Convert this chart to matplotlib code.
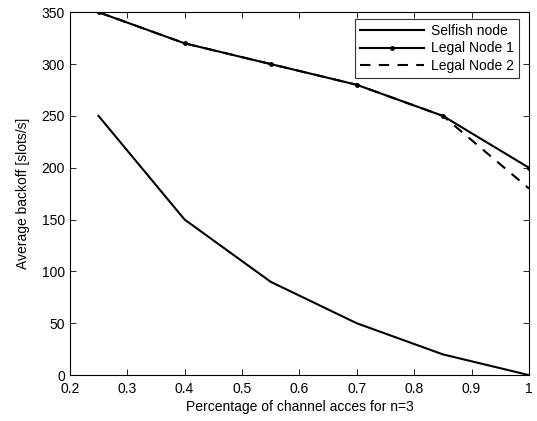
import matplotlib
matplotlib.use("Agg")
import matplotlib.pyplot as plt

plt.rcParams['font.family'] = ['Liberation Sans', 'DejaVu Sans']
plt.rcParams['font.size'] = 10

# data
x = [0.25, 0.4, 0.55, 0.7, 0.85, 1.0]
selfish = [250, 150, 90, 50, 20, 0]
legal1 = [350, 320, 300, 280, 250, 200]
legal2 = [350, 320, 300, 280, 250, 180]

fig = plt.figure(figsize=(5.37, 4.21), dpi=100)
ax = fig.add_axes([0.130, 0.109, 0.855, 0.862])

ax.plot(x, selfish, color='black', lw=1.5, label='Selfish node')
ax.plot(x, legal1, color='black', lw=1.5, marker='.', markersize=5, label='Legal Node 1')
ax.plot(x, legal2, color='black', lw=1.5, ls=(0, (5, 4)), label='Legal Node 2')

ax.set_xlim(0.2, 1.0)
ax.set_ylim(0, 350)
ax.set_xticks([0.2, 0.3, 0.4, 0.5, 0.6, 0.7, 0.8, 0.9, 1.0])
ax.set_xticklabels(['0.2', '0.3', '0.4', '0.5', '0.6', '0.7', '0.8', '0.9', '1'])
ax.set_yticks(range(0, 351, 50))
ax.tick_params(direction='in', top=True, right=True, length=4, width=0.6)
ax.tick_params(axis='x', pad=5)
for s in ax.spines.values():
    s.set_linewidth(0.8)

ax.set_xlabel('Percentage of channel acces for n=3', labelpad=3)
ax.set_ylabel('Average backoff [slots/s]', labelpad=8)

leg = ax.legend(loc='upper right', fancybox=False, edgecolor='black',
                bbox_to_anchor=(0.978, 0.981), borderaxespad=0.0,
                handlelength=4.6, labelspacing=0.25,
                borderpad=0.35, handletextpad=0.5)
leg.get_frame().set_linewidth(0.8)

plt.savefig('out.png', dpi=100)
